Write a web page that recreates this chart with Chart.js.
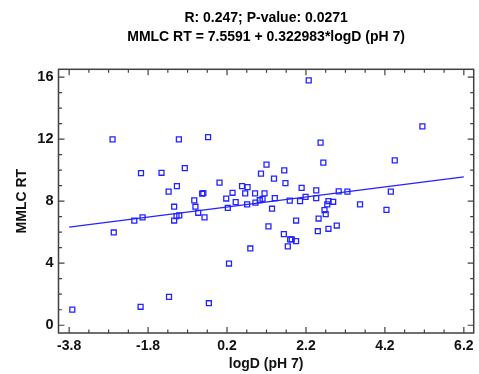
<!DOCTYPE html>
<html>
<head>
<meta charset="utf-8">
<script src="https://cdn.jsdelivr.net/npm/chart.js@4/dist/chart.umd.min.js"></script>
<style>
  html, body { margin: 0; padding: 0; background: #ffffff; }
  #wrap { width: 479px; height: 374px; }
</style>
</head>
<body>
<div id="wrap"><canvas id="c" width="479" height="374"></canvas></div>
<script>
// ---- data ----
const logD = [-3.72,-2.67,-2.15,-1.94,-1.99,-2.70,-1.98,-1.46,-1.02,-0.28,-0.87,-1.28,-1.07,0.01,-0.43,-0.40,-0.63,-0.60,-1.14,-1.01,-1.08,-1.14,-0.53,-0.37,0.18,0.22,1.25,1.95,1.64,1.80,1.84,1.95,1.74,0.79,0.25,-1.27,-0.26,1.20,1.06,1.65,1.39,1.68,0.58,0.72,0.34,0.66,0.91,1.15,0.42,0.71,0.92,1.03,1.10,1.41,1.79,2.05,2.09,1.34,2.50,2.77,2.98,2.57,2.64,2.46,3.03,3.25,2.19,2.46,2.77,2.89,2.74,3.57,2.67,2.70,2.52,2.27,5.15,4.45,4.35,4.24];
const mmlcRT = [1.01,5.98,6.74,6.95,1.19,11.98,9.81,9.83,11.98,12.13,10.13,8.61,8.97,9.19,8.48,8.52,8.05,7.64,7.64,7.08,7.03,6.75,7.25,6.95,8.17,7.57,6.37,6.75,5.87,5.53,5.53,5.42,5.08,4.95,3.98,1.83,1.42,10.35,9.77,9.98,9.45,9.16,8.97,8.90,8.54,8.50,8.50,8.50,7.94,7.79,7.90,8.06,8.15,8.19,8.03,8.00,8.86,7.51,6.06,6.22,6.43,11.77,10.48,8.69,8.63,8.61,8.28,8.19,8.00,7.96,7.79,7.79,7.42,7.16,6.88,15.79,12.82,10.63,8.61,7.44];
const fitX = [-3.8, 6.2];
const fitY = [6.33, 9.56];
const xTicks = [-3.8, -1.8, 0.2, 2.2, 4.2, 6.2];
const yTicks = [0, 4, 8, 12, 16];
const xMinorStep = 0.5;
const yMinorStep = 1;
const titleLines = ['R: 0.247; P-value: 0.0271', 'MMLC RT = 7.5591 + 0.322983*logD (pH 7)'];
const xTitle = 'logD (pH 7)';
const yTitle = 'MMLC RT';

const FONT = "'Liberation Sans', Arial, sans-serif";
const BLUE = '#2323ff';
const FRAME = '#404040';

const scatterData = logD.map((x, i) => ({ x: x, y: mmlcRT[i] }));
const lineData = fitX.map((x, i) => ({ x: x, y: fitY[i] }));

const framePlugin = {
  id: 'frameTicks',
  afterDraw(chart) {
    const ctx = chart.ctx;
    const a = chart.chartArea;
    const xs = chart.scales.x, ys = chart.scales.y;
    ctx.save();
    ctx.strokeStyle = FRAME;
    ctx.lineWidth = 1.5;
    ctx.strokeRect(a.left, a.top, a.right - a.left, a.bottom - a.top);
    ctx.lineWidth = 1.2;
    const majorLen = 6, minorLen = 3.5;
    ctx.beginPath();
    const xVals = [];
    xTicks.forEach(v => xVals.push([v, majorLen]));
    for (let k = 1; k <= 3; k++) {
      for (let i = 0; i < xTicks.length - 1; i++) {
        xVals.push([xTicks[i] + k * xMinorStep, minorLen]);
      }
    }
    xVals.forEach(([v, len]) => {
      const px = xs.getPixelForValue(v);
      ctx.moveTo(px, a.bottom); ctx.lineTo(px, a.bottom - len);
      ctx.moveTo(px, a.top); ctx.lineTo(px, a.top + len);
    });
    const yVals = [];
    yTicks.forEach(v => yVals.push([v, majorLen]));
    for (let i = 0; i < yTicks.length - 1; i++) {
      for (let k = 1; k <= 3; k++) yVals.push([yTicks[i] + k * yMinorStep, minorLen]);
    }
    yVals.forEach(([v, len]) => {
      const py = ys.getPixelForValue(v);
      ctx.moveTo(a.left, py); ctx.lineTo(a.left + len, py);
      ctx.moveTo(a.right, py); ctx.lineTo(a.right - len, py);
    });
    ctx.stroke();
    ctx.restore();
  }
};

new Chart(document.getElementById('c'), {
  type: 'scatter',
  data: {
    datasets: [
      {
        label: 'data',
        data: scatterData,
        pointStyle: 'rect',
        radius: 3.5,
        borderColor: BLUE,
        backgroundColor: 'rgba(0,0,0,0)',
        borderWidth: 1.3,
        showLine: false
      },
      {
        label: 'fit',
        type: 'line',
        data: lineData,
        borderColor: BLUE,
        borderWidth: 1.2,
        pointRadius: 0,
        fill: false,
        tension: 0
      }
    ]
  },
  options: {
    responsive: false,
    animation: false,
    devicePixelRatio: 1,
    layout: { padding: { top: 0, right: 3, bottom: 0, left: 0 } },
    plugins: {
      legend: { display: false },
      tooltip: { enabled: false },
      title: {
        display: true,
        fullSize: false,
        text: titleLines,
        color: '#000',
        font: { family: FONT, size: 14, weight: 'bold', lineHeight: 1.314 },
        padding: { top: 9.1, bottom: 23.4 }
      }
    },
    scales: {
      x: {
        type: 'linear',
        min: -4.07,
        max: 6.45,
        afterBuildTicks: (s) => { s.ticks = xTicks.map(v => ({ value: v })); },
        afterFit: (s) => { s.height = 41; },
        grid: { display: false, drawTicks: false },
        border: { display: false },
        ticks: {
          color: '#111',
          padding: 5,
          maxRotation: 0,
          autoSkip: false,
          font: { family: FONT, size: 14, weight: 'bold' },
          callback: (v) => Number(v).toFixed(1)
        },
        title: {
          display: true,
          text: xTitle,
          color: '#111',
          font: { family: FONT, size: 14, weight: 'bold', lineHeight: 1.2 },
          padding: { top: 0, bottom: 1.2 }
        }
      },
      y: {
        type: 'linear',
        min: -0.5,
        max: 16.5,
        afterBuildTicks: (s) => { s.ticks = yTicks.map(v => ({ value: v })); },
        afterFit: (s) => { s.width = 58.5; },
        grid: { display: false, drawTicks: false },
        border: { display: false },
        ticks: {
          color: '#111',
          padding: 5,
          autoSkip: false,
          font: { family: FONT, size: 14.5, weight: 'bold' },
          callback: (v) => String(v)
        },
        title: {
          display: true,
          text: yTitle,
          color: '#111',
          font: { family: FONT, size: 14, weight: 'bold', lineHeight: 1.2 },
          padding: { top: 13.3, bottom: 0 }
        }
      }
    }
  },
  plugins: [framePlugin]
});
</script>
</body>
</html>
